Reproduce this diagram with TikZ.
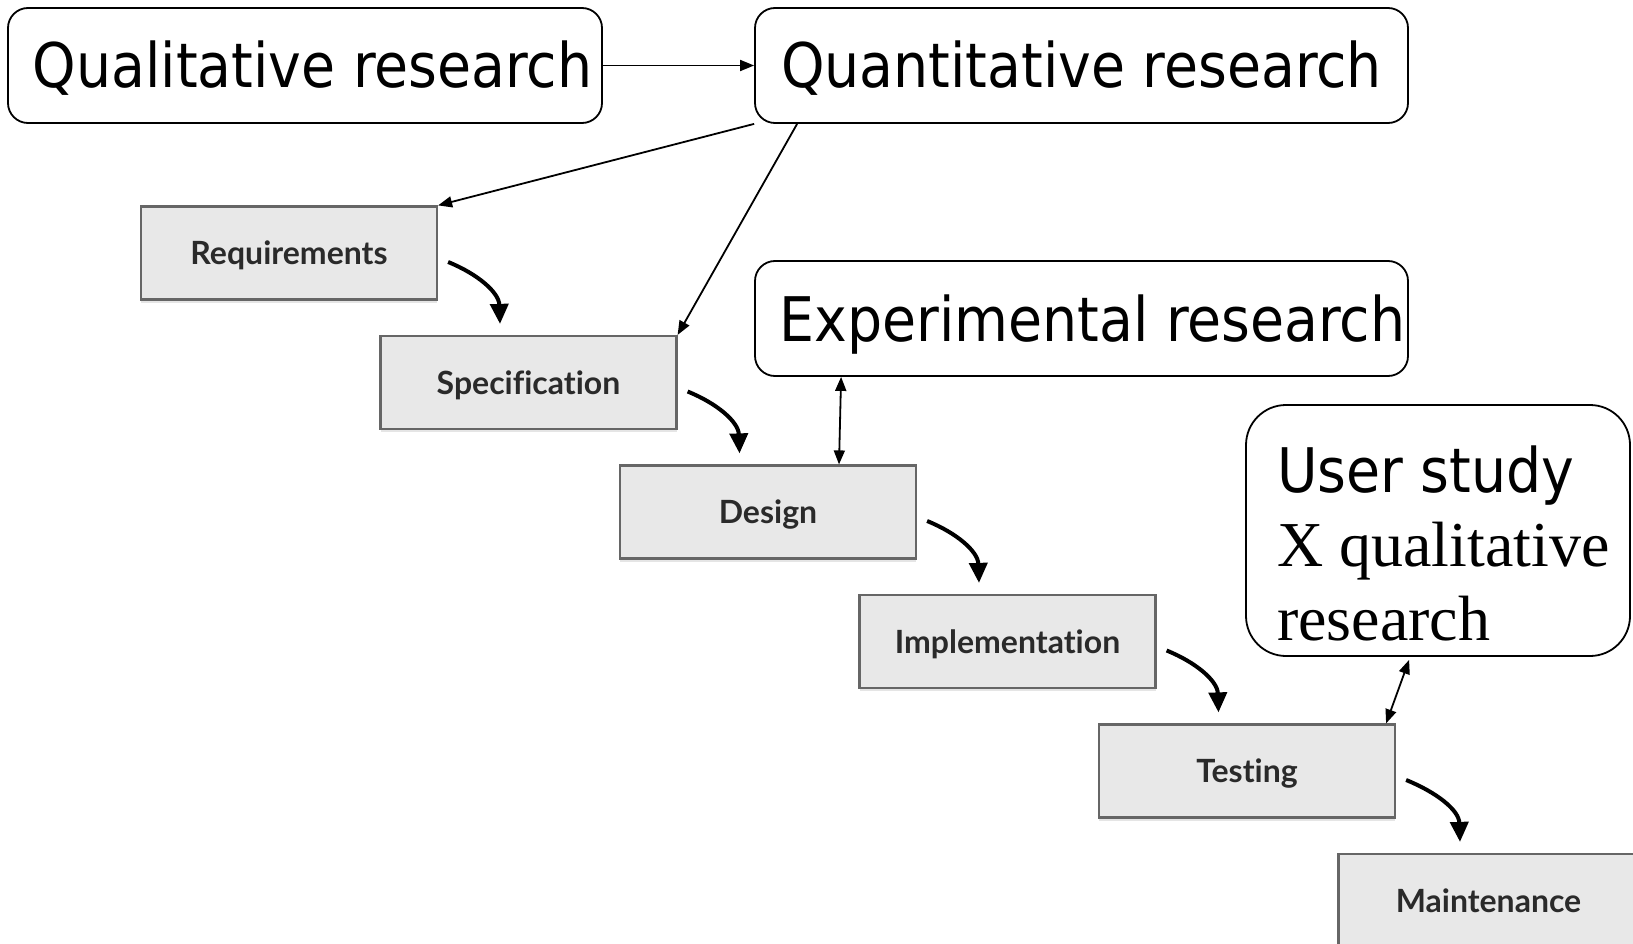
\documentclass[tikz,border=0pt]{standalone}
\usepackage{fontspec}
\newfontfamily\tahomalike{DejaVu Sans Condensed}
\newfontfamily\serifface{Liberation Serif}
\newfontfamily\stageface[Ligatures=NoCommon]{Lato}
\usetikzlibrary{arrows.meta,shadows}

\definecolor{stagefill}{HTML}{E8E8E8}
\definecolor{stageborder}{HTML}{666666}
\definecolor{stagetext}{HTML}{2A2A2A}

\begin{document}
\begin{tikzpicture}[x=1pt,y=-1pt,
  bigbox/.style={draw=black, line width=1.8pt, rounded corners=20pt, fill=white,
    minimum width=653pt, minimum height=115pt, inner sep=0pt,
    font=\tahomalike\fontsize{61.5}{70}\selectfont, text height=45pt, text depth=0pt},
  stage/.style={draw=stageborder, line width=2.2pt, fill=stagefill,
    minimum width=296pt, minimum height=93pt, inner sep=0pt,
    font=\stageface\bfseries\fontsize{32}{36}\selectfont, text=stagetext,
    text height=23pt, text depth=0pt,
    drop shadow={shadow xshift=0pt, shadow yshift=-3pt, fill=black, opacity=0.10}},
  flow/.style={line width=4pt, -{Triangle[width=18pt,length=20pt]}},
  link/.style={line width=1.8pt, -{Triangle[width=11pt,length=14pt]}},
  twoway/.style={line width=1.8pt, {Triangle[width=11pt,length=14pt]}-{Triangle[width=11pt,length=14pt]}},
  usertext/.style={anchor=base west, inner sep=0pt},
]
\useasboundingbox (0,0) rectangle (1633,944);
\clip (0,0) rectangle (1633,944);

% research boxes
\node[bigbox, minimum width=594pt] (qual) at (305,65.5) {\hspace*{15pt}Qualitative research};
\node[bigbox] (quant) at (1081.5,65.5) {Quantitative research};
\node[bigbox] (exp) at (1081.5,318.5) {\hspace*{22pt}Experimental research};
\node[bigbox, rounded corners=40pt, minimum width=384pt, minimum height=251pt] (user) at (1438,530.5) {};
\node[usertext, font=\tahomalike\fontsize{61.5}{70}\selectfont] (userA) at (1277,492) {User study};
\node[usertext, font=\serifface\fontsize{64}{70}\selectfont] (userB) at (1277,566) {X qualitative};
\node[usertext, font=\serifface\fontsize{64}{70}\selectfont] (userC) at (1277,640) {research};

% waterfall stages
\node[stage] (req) at (289,253) {Requirements};
\node[stage] (spec) at (528.5,382.5) {Specification};
\node[stage] (design) at (768,512) {Design};
\node[stage] (impl) at (1007.5,641.5) {Implementation};
\node[stage] (test) at (1247,771) {Testing};
\node[stage, minimum width=300pt] (maint) at (1488.5,900.5) {Maintenance};

% flow between stages
\foreach \a/\b in {req/spec, spec/design, design/impl, impl/test, test/maint}
  \draw[flow] ([xshift=10pt,yshift=-9pt]\a.east) to[out=-22,in=92] ([xshift=-28.5pt,yshift=11pt]\b.north);

% links between research and stages
\draw[link] (qual.east) -- (quant.west);
\draw[link] (quant.south west) -- (req.north east);
\draw[link] ([xshift=43pt]quant.south west) -- (spec.north east);
\draw[twoway] ([xshift=87pt]exp.south west) -- ([xshift=71pt]design.north);
\draw[twoway] ([xshift=164pt,yshift=-3pt]user.south west) -- ([xshift=-10pt]test.north east);
\end{tikzpicture}
\end{document}
